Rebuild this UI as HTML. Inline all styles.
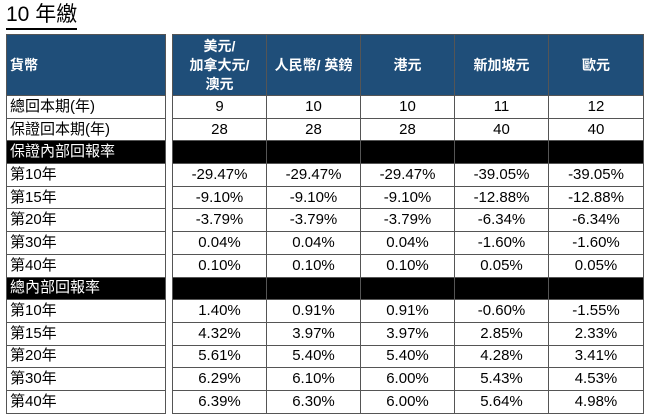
<!DOCTYPE html>
<html><head><meta charset="utf-8"><style>
body{margin:0;width:648px;height:420px;background:#fff;font-family:"Liberation Sans","Noto Sans CJK TC",sans-serif;position:relative;overflow:hidden}
.t{position:absolute;left:6px;top:3px;font-size:21px;color:#000;border-bottom:2px solid #000;line-height:24px;padding-bottom:1px}
table{position:absolute;border-collapse:collapse;top:34px;table-layout:fixed}
td{border:1px solid #555;height:21.7px;padding:0;font-size:15px;color:#000;text-align:center;line-height:16px;white-space:nowrap}
.h td{height:60px;background:#1f4e79;color:#fff;font-size:14px;font-weight:bold;line-height:19px}
.b td{background:#000;color:#fff}
#L{left:6px;width:160px}
#L td{text-align:left;padding-left:3px}
#R{left:172px;width:471px}
</style></head><body>
<div class="t">10 年繳</div>
<table id="L">
<tr class="h"><td>貨幣</td></tr>
<tr><td>總回本期(年)</td></tr>
<tr><td>保證回本期(年)</td></tr>
<tr class="b"><td>保證內部回報率</td></tr>
<tr><td>第10年</td></tr><tr><td>第15年</td></tr><tr><td>第20年</td></tr><tr><td>第30年</td></tr><tr><td>第40年</td></tr>
<tr class="b"><td>總內部回報率</td></tr>
<tr><td>第10年</td></tr><tr><td>第15年</td></tr><tr><td>第20年</td></tr><tr><td>第30年</td></tr><tr><td>第40年</td></tr>
</table>
<table id="R">
<colgroup><col style="width:94px"><col style="width:94px"><col style="width:94px"><col style="width:94px"><col style="width:95px"></colgroup>
<tr class="h"><td>美元/<br>加拿大元/<br>澳元</td><td>人民幣/ 英鎊</td><td>港元</td><td>新加坡元</td><td>歐元</td></tr>
<tr><td>9</td><td>10</td><td>10</td><td>11</td><td>12</td></tr>
<tr><td>28</td><td>28</td><td>28</td><td>40</td><td>40</td></tr>
<tr class="b"><td></td><td style="border-left-color:#000"></td><td style="border-left-color:#000"></td><td style="border-left-color:#000"></td><td style="border-left-color:#000"></td></tr>
<tr><td>-29.47%</td><td>-29.47%</td><td>-29.47%</td><td>-39.05%</td><td>-39.05%</td></tr>
<tr><td>-9.10%</td><td>-9.10%</td><td>-9.10%</td><td>-12.88%</td><td>-12.88%</td></tr>
<tr><td>-3.79%</td><td>-3.79%</td><td>-3.79%</td><td>-6.34%</td><td>-6.34%</td></tr>
<tr><td>0.04%</td><td>0.04%</td><td>0.04%</td><td>-1.60%</td><td>-1.60%</td></tr>
<tr><td>0.10%</td><td>0.10%</td><td>0.10%</td><td>0.05%</td><td>0.05%</td></tr>
<tr class="b"><td></td><td style="border-left-color:#000"></td><td style="border-left-color:#000"></td><td style="border-left-color:#000"></td><td style="border-left-color:#000"></td></tr>
<tr><td>1.40%</td><td>0.91%</td><td>0.91%</td><td>-0.60%</td><td>-1.55%</td></tr>
<tr><td>4.32%</td><td>3.97%</td><td>3.97%</td><td>2.85%</td><td>2.33%</td></tr>
<tr><td>5.61%</td><td>5.40%</td><td>5.40%</td><td>4.28%</td><td>3.41%</td></tr>
<tr><td>6.29%</td><td>6.10%</td><td>6.00%</td><td>5.43%</td><td>4.53%</td></tr>
<tr><td>6.39%</td><td>6.30%</td><td>6.00%</td><td>5.64%</td><td>4.98%</td></tr>
</table>
</body></html>
